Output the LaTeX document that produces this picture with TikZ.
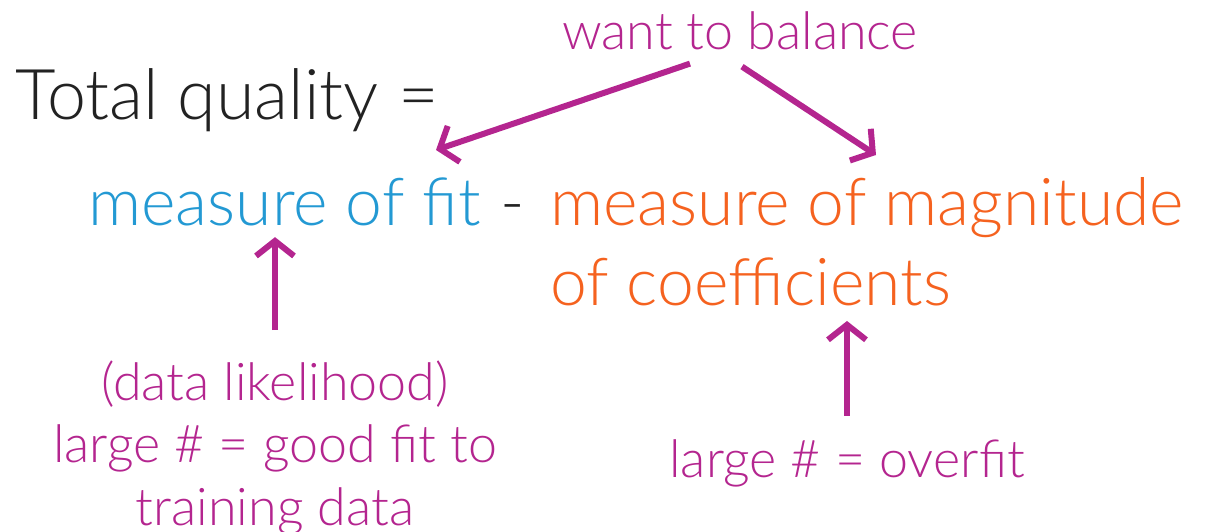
\documentclass[tikz,border=0pt]{standalone}
\usepackage{fontspec}
\setmainfont{Lato Light}
\usepackage{tikz}
\usetikzlibrary{arrows.meta,positioning}
\definecolor{Ink}{HTML}{222222}
\definecolor{FitBlue}{HTML}{2399D3}
\definecolor{CoefOrange}{HTML}{F5621F}
\definecolor{Note}{HTML}{B4258F}

\begin{document}
\begin{tikzpicture}[x=1pt,y=-1pt,
  bigtext/.style={anchor=base west,inner sep=0pt,font=\fontsize{70}{80}\selectfont},
  termtext/.style={bigtext,font=\fontsize{66}{80}\selectfont},
  notetext/.style={inner sep=0pt,text=Note,align=center,font=\fontsize{52}{62.5}\selectfont},
  arr/.style={-{Straight Barb[length=15pt,width=38pt]},line width=6pt,color=Note}]
  \useasboundingbox (0,0) rectangle (1210,532);
  \node[bigtext,text=Ink] (total) at (15,120) {Total quality =};
  \node[notetext,anchor=base] (balance) at (740,50) {want to balance};
  \node[termtext,text=FitBlue] (fit) at (88,225) {measure of fit};
  \node[termtext,text=Ink] (minus) at (500,225) {-};
  \node[termtext,text=CoefOrange,align=left] (coef) at (550,305) {measure of magnitude\\of coefficients};
  \node[notetext,anchor=base] (likely) at (275,525) {(data likelihood)\\large \# = good fit to\\training data};
  \node[notetext,anchor=base] (overfit) at (847,477) {large \# = overfit};
  \coordinate (tipfit) at (436,150);
  \coordinate (tipcoef) at (876,155);
  \draw[arr] ([xshift=-50pt,yshift=-13pt]balance.south) -- (tipfit);
  \draw[arr] ([xshift=2pt,yshift=-16pt]balance.south) -- (tipcoef);
  \draw[arr] ([yshift=30pt]likely.north) -- ++(0,-93);
  \draw[arr] ([yshift=23pt]overfit.north) -- ++(0,-95);
\end{tikzpicture}
\end{document}
